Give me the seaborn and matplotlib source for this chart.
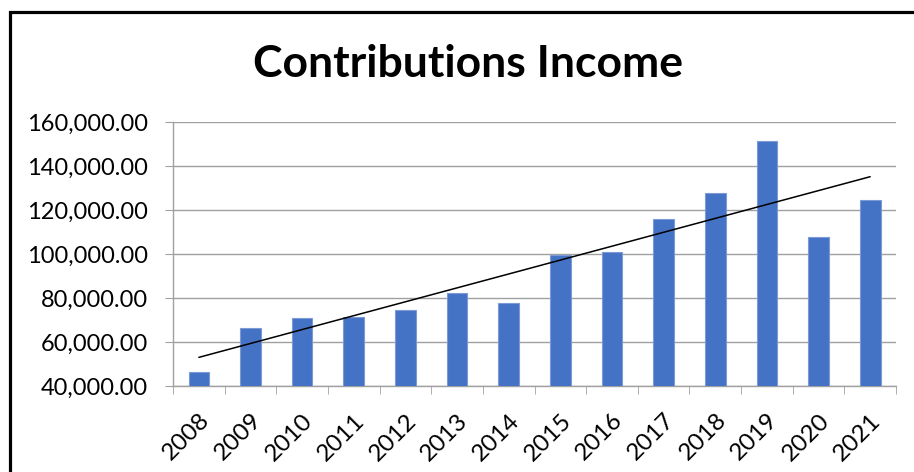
import numpy as np
import pandas as pd
import matplotlib
matplotlib.use('Agg')
import matplotlib.pyplot as plt
import seaborn as sns
from matplotlib.patches import Rectangle
from matplotlib.ticker import FuncFormatter

# values
years = ['2008', '2009', '2010', '2011', '2012', '2013', '2014',
         '2015', '2016', '2017', '2018', '2019', '2020', '2021']
income = [46200, 66400, 71100, 71400, 74800, 82100, 77700,
          99700, 100900, 115800, 127900, 151300, 108000, 124600]
y_ticks = [40000, 60000, 80000, 100000, 120000, 140000, 160000]

df = pd.DataFrame({'year': years, 'income': income})
df['idx'] = np.arange(len(df))

sns.set_style('white')
plt.rcParams['font.family'] = ['Lato', 'DejaVu Sans']
plt.rcParams['text.color'] = 'black'
plt.rcParams['xtick.labelcolor'] = 'black'
plt.rcParams['ytick.labelcolor'] = 'black'

fig = plt.figure(figsize=(9.14, 4.72), dpi=100)
ax = fig.add_axes([0.1893, 0.1822, 0.791, 0.5587])

sns.barplot(data=df, x='year', y='income', color='#4472C4', saturation=1,
            width=0.4, edgecolor='#7b9ad6', linewidth=0.8, ax=ax, zorder=3)

# linear trend line
sns.regplot(data=df, x='idx', y='income', scatter=False, ci=None, truncate=True,
            color='black', line_kws={'lw': 1.1, 'zorder': 4}, ax=ax)

ax.set_xlim(-0.5, len(years) - 0.5)
ax.set_ylim(40000, 160000)
ax.set_yticks(y_ticks)
ax.yaxis.set_major_formatter(FuncFormatter(lambda v, p: f'{v:,.2f}'))
ax.set_xticks(range(len(years)))
ax.set_xticklabels(years, rotation=45, ha='right', rotation_mode='anchor')
ax.set_xticks(np.arange(-0.5, len(years), 1), minor=True)
ax.set_xlabel('')
ax.set_ylabel('')

ax.grid(axis='y', color='#a0a0a0', lw=1.0, zorder=0)
ax.set_axisbelow(True)
for s in ['top', 'right']:
    ax.spines[s].set_visible(False)
for s in ['left', 'bottom']:
    ax.spines[s].set_color('#a0a0a0')
    ax.spines[s].set_linewidth(1.0)

ax.tick_params(axis='y', length=6, color='#a0a0a0', labelcolor='black',
               labelsize=17, pad=12, left=True)
ax.tick_params(axis='x', which='major', length=0, labelcolor='black',
               labelsize=17.5, pad=17)
ax.tick_params(axis='x', which='minor', length=6, color='#a0a0a0', bottom=True)

fig.text(468 / 914, 1 - 64 / 472, 'Contributions Income', ha='center', va='center',
         fontsize=32, fontweight='bold', color='black')

# chart border (only left and top edges fall inside the picture)
fig.patches.append(Rectangle((10 / 914, -0.2), 1.2, 1.2 - 12 / 472,
                             transform=fig.transFigure, fill=False,
                             edgecolor='black', lw=2.3))

fig.savefig('out.png', dpi=100)
